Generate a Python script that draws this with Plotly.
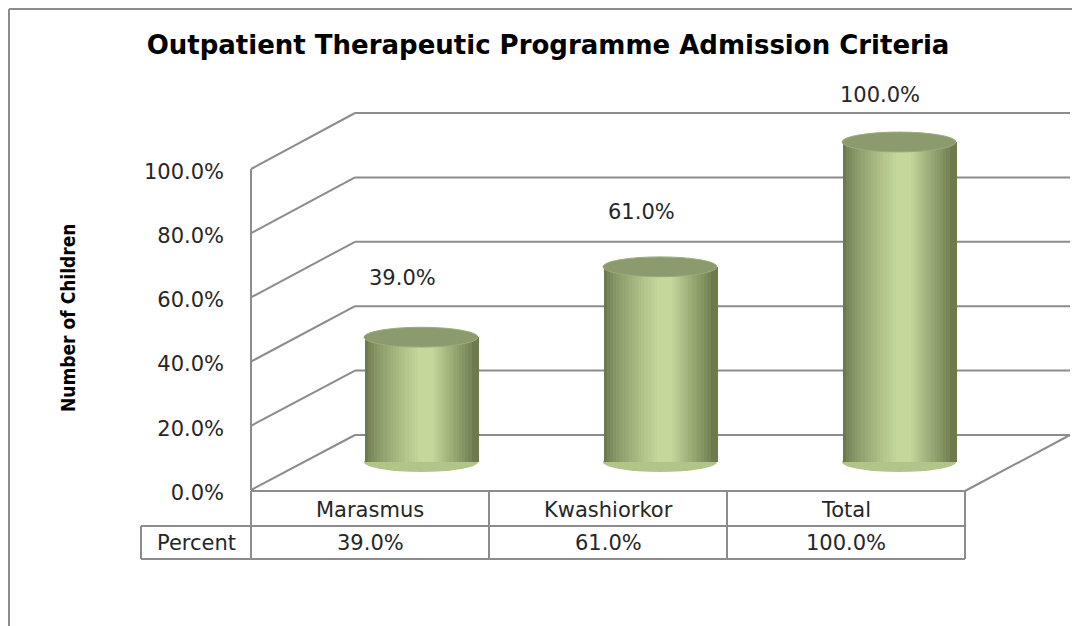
import plotly.graph_objects as go

# ---------------- data ----------------
categories = ["Marasmus", "Kwashiorkor", "Total"]
percent_values = [39.0, 61.0, 100.0]
value_labels = ["39.0%", "61.0%", "100.0%"]
tick_values = [0, 20, 40, 60, 80, 100]
tick_labels = ["0.0%", "20.0%", "40.0%", "60.0%", "80.0%", "100.0%"]
row_label = "Percent"
chart_title = "Outpatient Therapeutic Programme Admission Criteria"
y_title = "Number of Children"

# ---------------- geometry helpers (page pixels -> paper) ----------------
OFF = 8  # page body margin
W_PX, H_PX = 1072, 618


def fx(p):
    return (p - OFF) / W_PX


def fy(p):
    return 1 - (p - OFF) / H_PX


GRID = "#8c8c8c"
TEXT = "#262626"
FONT = "DejaVu Sans, Verdana, sans-serif"

FRONT_X, BACK_X, RIGHT_X = 251, 355, 1070
FLOOR_FRONT_RIGHT_X = 965


def front_y(v):
    return 490 - v * (490 - 169) / 100


def back_y(v):
    return 435 - v * (435 - 113) / 100


def lerp_col(c1, c2, t):
    a = [int(c1[i:i + 2], 16) for i in (1, 3, 5)]
    b = [int(c2[i:i + 2], 16) for i in (1, 3, 5)]
    return "#%02x%02x%02x" % tuple(round(a[k] + (b[k] - a[k]) * t) for k in range(3))


fig = go.Figure()

# ---------------- cylinders (overlaid bars give the shading) ----------------
bar_w = 0.477
N_LAYERS = 18
DARK, LIGHT = "#6c7a4e", "#c4d89c"
for k in range(N_LAYERS):
    t = k / (N_LAYERS - 1)
    a = 0.47 * t
    b = 1 - 0.40 * t ** 0.7
    col = lerp_col(DARK, LIGHT, t ** 0.75)
    fig.add_trace(go.Bar(
        x=categories, y=percent_values,
        width=(b - a) * bar_w, offset=(a - 0.5) * bar_w,
        marker=dict(color=col, line=dict(width=0)),
        hoverinfo="skip", showlegend=False,
        xaxis="x", yaxis="y",
    ))

# dummy trace for the percentage label axis
fig.add_trace(go.Scatter(x=[None], y=[None], xaxis="x2", yaxis="y2",
                         showlegend=False, hoverinfo="skip"))

shapes = []

# chart frame
shapes.append(dict(type="line", xref="paper", yref="paper",
                   x0=fx(9), x1=fx(9), y0=fy(9), y1=fy(626),
                   line=dict(color="#8c8c8c", width=2)))
shapes.append(dict(type="line", xref="paper", yref="paper",
                   x0=fx(9), x1=fx(1080), y0=fy(9), y1=fy(9),
                   line=dict(color="#8c8c8c", width=2)))

# walls: back gridlines and side-wall diagonals
for v in tick_values:
    shapes.append(dict(type="line", xref="paper", yref="paper", layer="below",
                       x0=fx(BACK_X), x1=fx(RIGHT_X), y0=fy(back_y(v)), y1=fy(back_y(v)),
                       line=dict(color=GRID, width=2)))
    shapes.append(dict(type="line", xref="paper", yref="paper", layer="below",
                       x0=fx(FRONT_X), x1=fx(BACK_X), y0=fy(front_y(v)), y1=fy(back_y(v)),
                       line=dict(color=GRID, width=2)))
shapes.append(dict(type="line", xref="paper", yref="paper", layer="below",
                   x0=fx(FRONT_X), x1=fx(FRONT_X), y0=fy(front_y(100)), y1=fy(front_y(0)),
                   line=dict(color=GRID, width=2)))
shapes.append(dict(type="line", xref="paper", yref="paper", layer="below",
                   x0=fx(FLOOR_FRONT_RIGHT_X), x1=fx(RIGHT_X), y0=fy(491), y1=fy(back_y(0)),
                   line=dict(color=GRID, width=2)))

# bottom ellipses of cylinders (under the bars)
cap_h = 3.1
for i, v in enumerate(percent_values):
    shapes.append(dict(type="circle", xref="x", yref="y", layer="below",
                       x0=i - bar_w / 2, x1=i + bar_w / 2, y0=-cap_h, y1=cap_h,
                       fillcolor="#b2c588", line=dict(width=0)))
# top ellipses
for i, v in enumerate(percent_values):
    shapes.append(dict(type="circle", xref="x", yref="y",
                       x0=i - bar_w / 2, x1=i + bar_w / 2, y0=v - cap_h, y1=v + cap_h,
                       fillcolor="#8b9b6d", line=dict(color="#9aab7b", width=1)))

# data table
col_edges = [251, 489, 727, 965]
TBL_TOP, TBL_MID, TBL_BOT, TBL_LEFT = 491, 526, 559, 141
tline = dict(color=GRID, width=2)
shapes.append(dict(type="line", xref="paper", yref="paper", x0=fx(col_edges[0]), x1=fx(col_edges[-1]),
                   y0=fy(TBL_TOP), y1=fy(TBL_TOP), line=tline))
for yy in (TBL_MID, TBL_BOT):
    shapes.append(dict(type="line", xref="paper", yref="paper", x0=fx(TBL_LEFT), x1=fx(col_edges[-1]),
                       y0=fy(yy), y1=fy(yy), line=tline))
for xx in col_edges:
    shapes.append(dict(type="line", xref="paper", yref="paper", x0=fx(xx), x1=fx(xx),
                       y0=fy(TBL_TOP), y1=fy(TBL_BOT), line=tline))
shapes.append(dict(type="line", xref="paper", yref="paper", x0=fx(TBL_LEFT), x1=fx(TBL_LEFT),
                   y0=fy(TBL_MID), y1=fy(TBL_BOT), line=tline))

annotations = []
tfont = dict(family=FONT, size=21, color=TEXT)
for i, (cat, lab) in enumerate(zip(categories, value_labels)):
    cx = (col_edges[i] + col_edges[i + 1]) / 2
    annotations.append(dict(xref="paper", yref="paper", x=fx(cx), y=fy((TBL_TOP + TBL_MID) / 2 + 1),
                            text=cat, showarrow=False, font=tfont, xanchor="center", yanchor="middle"))
    annotations.append(dict(xref="paper", yref="paper", x=fx(cx), y=fy((TBL_MID + TBL_BOT) / 2),
                            text=lab, showarrow=False, font=tfont, xanchor="center", yanchor="middle"))
annotations.append(dict(xref="paper", yref="paper", x=fx((TBL_LEFT + col_edges[0]) / 2),
                        y=fy((TBL_MID + TBL_BOT) / 2), text=row_label, showarrow=False,
                        font=tfont, xanchor="center", yanchor="middle"))

# data labels above the cylinders
for i, (v, lab) in enumerate(zip(percent_values, value_labels)):
    annotations.append(dict(xref="x", yref="y", x=i, y=v, text=lab, showarrow=False,
                            font=tfont, xanchor="center", yanchor="middle",
                            xshift=-19, yshift=67 - 0.2 * v))

# y-axis title
annotations.append(dict(xref="paper", yref="paper", x=fx(68), y=fy(318), text="<b>" + y_title + "</b>",
                        textangle=-90, showarrow=False, xanchor="center", yanchor="middle",
                        font=dict(family="Liberation Sans Narrow, DejaVu Sans Condensed, Arial Narrow, sans-serif",
                                  size=19, color="#000000")))

Y_LO, Y_HI = -5, 106  # a little room so the cylinder caps are not clipped
PX_PER = 3.2
fig.update_layout(
    width=W_PX, height=H_PX,
    margin=dict(l=0, r=0, t=0, b=0, autoexpand=False),
    paper_bgcolor="white", plot_bgcolor="rgba(0,0,0,0)",
    barmode="overlay", bargap=0,
    title=dict(text="<b>" + chart_title + "</b>", x=fx(548), y=fy(45), xanchor="center", yanchor="middle",
               font=dict(family=FONT, size=26, color="#000000")),
    xaxis=dict(domain=[fx(301.5), fx(1018.5)], range=[-0.5, 2.5], visible=False,
               fixedrange=True, automargin=False),
    yaxis=dict(domain=[fy(462 - Y_LO * PX_PER), fy(462 - Y_HI * PX_PER)], range=[Y_LO, Y_HI],
               visible=False, fixedrange=True, automargin=False),
    xaxis2=dict(domain=[fx(FRONT_X), fx(965)], range=[0, 1], visible=False, anchor="y2",
                automargin=False),
    yaxis2=dict(domain=[fy(492.5), fy(171.5)], range=[0, 100], anchor="x2", side="left",
                tickmode="array", tickvals=tick_values, ticktext=tick_labels,
                showgrid=False, zeroline=False, showline=False, ticks="",
                ticklabelstandoff=26, tickfont=tfont, automargin=False),
    shapes=shapes, annotations=annotations,
    showlegend=False,
)

fig.write_html("out.html")
